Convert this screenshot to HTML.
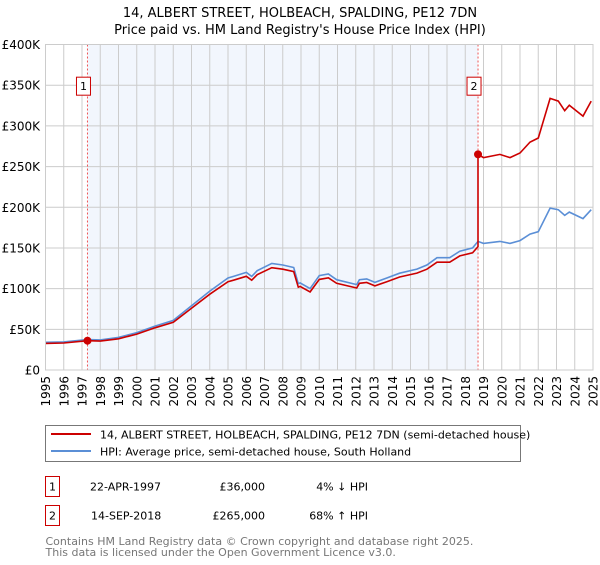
<!DOCTYPE html>
<html><head><meta charset="utf-8"><style>
body{margin:0;background:#fff;font-family:"Liberation Sans","DejaVu Sans",sans-serif;}
svg text{font-family:"DejaVu Sans","Liberation Sans",sans-serif;}
</style></head><body>
<svg id="chart" width="600" height="560" xmlns="http://www.w3.org/2000/svg">
<text x="300" y="17" text-anchor="middle" font-size="13">14, ALBERT STREET, HOLBEACH, SPALDING, PE12 7DN</text>
<text x="300" y="34" text-anchor="middle" font-size="13">Price paid vs. HM Land Registry's House Price Index (HPI)</text>
<g id="plot"></g>
<g>
<rect x="45.5" y="425.5" width="475" height="36" fill="#fff" stroke="#777"/>
<line x1="51" y1="434" x2="91" y2="434" stroke="#cc0000" stroke-width="2"/>
<text x="100" y="438.5" font-size="11">14, ALBERT STREET, HOLBEACH, SPALDING, PE12 7DN (semi-detached house)</text>
<line x1="51" y1="451" x2="91" y2="451" stroke="#5b8fd6" stroke-width="2"/>
<text x="100" y="455.5" font-size="11">HPI: Average price, semi-detached house, South Holland</text>
</g>
<g font-size="11">
<rect x="45.5" y="476.5" width="14" height="20" fill="#fff" stroke="#cc0000"/>
<text x="52.5" y="490.5" text-anchor="middle">1</text>
<text x="90" y="490.5">22-APR-1997</text>
<text x="265" y="490.5" text-anchor="end">£36,000</text>
<text x="368" y="490.5" text-anchor="end">4% ↓ HPI</text>
<rect x="45.5" y="505.5" width="14" height="20" fill="#fff" stroke="#cc0000"/>
<text x="52.5" y="519.5" text-anchor="middle">2</text>
<text x="91" y="519.5">14-SEP-2018</text>
<text x="265" y="519.5" text-anchor="end">£265,000</text>
<text x="368" y="519.5" text-anchor="end">68% ↑ HPI</text>
</g>
<text x="45.5" y="545" font-size="11" fill="#777">Contains HM Land Registry data © Crown copyright and database right 2025.</text>
<text x="45.5" y="556" font-size="11" fill="#777">This data is licensed under the Open Government Licence v3.0.</text>
</svg>
<script>
const hpiYears=[1995,1996,1997.3,1998,1999,2000,2001,2002,2003,2004,2005,2005.3,2006,2006.3,2006.6,2007.4,2008,2008.6,2008.85,2008.95,2009.5,2010,2010.5,2010.95,2012.05,2012.2,2012.6,2013.05,2013.7,2014.4,2015.35,2015.9,2016.45,2017.15,2017.7,2018.4,2018.7,2019,2019.9,2020.45,2021,2021.55,2022,2022.65,2023.1,2023.45,2023.7,2024.45,2024.9];
const hpiValues=[34,34.5,37.5,37,40,46,54,61,79,97,113,115,120,115,122,131,129,126,106,107,100,116,118,111,105,111,112,107.6,113,119,124,129,138,138,146,150,158,155.6,158,155.6,159,167,170,199,197,190,194,186,197];
const saleYears=[1997.3,2018.7];
const saleValues=[36,265];
const yTicks=[0,50,100,150,200,250,300,350,400];
const yTickLabels=["£0","£50K","£100K","£150K","£200K","£250K","£300K","£350K","£400K"];
const xTicks=[1995,1996,1997,1998,1999,2000,2001,2002,2003,2004,2005,2006,2007,2008,2009,2010,2011,2012,2013,2014,2015,2016,2017,2018,2019,2020,2021,2022,2023,2024,2025];

const L=45.5,R=593,T=44.5,B=370;
const xs=y=>L+(y-1995)*(R-L)/30;
const ys=v=>B-v*(B-T)/400;
const NS="http://www.w3.org/2000/svg";
const g=document.getElementById('plot');
function mk(tag,at,parent){const e=document.createElementNS(NS,tag);for(const k in at)e.setAttribute(k,at[k]);(parent||g).appendChild(e);return e;}

let e=mk('rect',{x:L,y:T,width:R-L,height:B-T,fill:'#fff'});


e=mk('rect',{x:xs(saleYears[0]),y:T,width:xs(saleYears[1])-xs(saleYears[0]),height:B-T,fill:'#f2f6fd'});


yTicks.forEach((t,i)=>{
 const l=mk('line',{x1:L,x2:R,y1:ys(t),y2:ys(t),stroke:'#ccc'});
 
 
 const tx=mk('text',{x:40,y:ys(t)+4.5,'text-anchor':'end','font-size':'12'});
 tx.textContent=yTickLabels[i];
 
 
});
xTicks.forEach(t=>{
 const l=mk('line',{x1:xs(t),x2:xs(t),y1:T,y2:B,stroke:'#ccc'});
 
 
 const tx=mk('text',{x:0,y:0,'text-anchor':'end','font-size':'12',transform:`translate(${xs(t)+4.5},${B+6}) rotate(-90)`});
 tx.textContent=t;
 
 
});
// sale markers
saleYears.forEach((sy,i)=>{
 const l=mk('line',{x1:xs(sy),x2:xs(sy),y1:T,y2:B,stroke:'#ee5555','stroke-dasharray':'2,2'});
 
 
 const bx=mk('rect',{x:xs(sy)-11,y:ys(350)-8,width:14,height:18,fill:'#fff',stroke:'#cc0000'});
 
 
 const tx=mk('text',{x:xs(sy)-4,y:ys(350)+5,'text-anchor':'middle','font-size':'11'});
 tx.textContent=String(i+1);
 
 
});
function hpiAt(y){for(let i=0;i<hpiYears.length-1;i++){if(y<=hpiYears[i+1])return hpiValues[i]+(hpiValues[i+1]-hpiValues[i])*(y-hpiYears[i])/(hpiYears[i+1]-hpiYears[i]);}return hpiValues[hpiValues.length-1];}
// HPI line
let d=hpiYears.map((y,i)=>(i?'L':'M')+xs(y).toFixed(1)+','+ys(hpiValues[i]).toFixed(1)).join('');
e=mk('path',{d:d,fill:'none',stroke:'#5b8fd6','stroke-width':1.6});


// Property line indexed from sales
const r1=saleValues[0]/hpiAt(saleYears[0]),r2=saleValues[1]/hpiAt(saleYears[1]);
let pts=[];
hpiYears.forEach((y,i)=>{if(y<saleYears[1])pts.push([y,hpiValues[i]*r1]);});
pts.push([saleYears[1],hpiAt(saleYears[1])*r1]);
pts.push([saleYears[1],saleValues[1]]);
hpiYears.forEach((y,i)=>{if(y>saleYears[1])pts.push([y,hpiValues[i]*r2]);});
d=pts.map((p,i)=>(i?'L':'M')+xs(p[0]).toFixed(1)+','+ys(p[1]).toFixed(1)).join('');
e=mk('path',{d:d,fill:'none',stroke:'#cc0000','stroke-width':1.6});


saleYears.forEach((sy,i)=>{
 const c=mk('circle',{cx:xs(sy),cy:ys(saleValues[i]),r:4,fill:'#cc0000'});
 
 
});
e=mk('rect',{x:L,y:T,width:R-L,height:B-T,fill:'none',stroke:'#ccc'});


</script>
</body></html>
